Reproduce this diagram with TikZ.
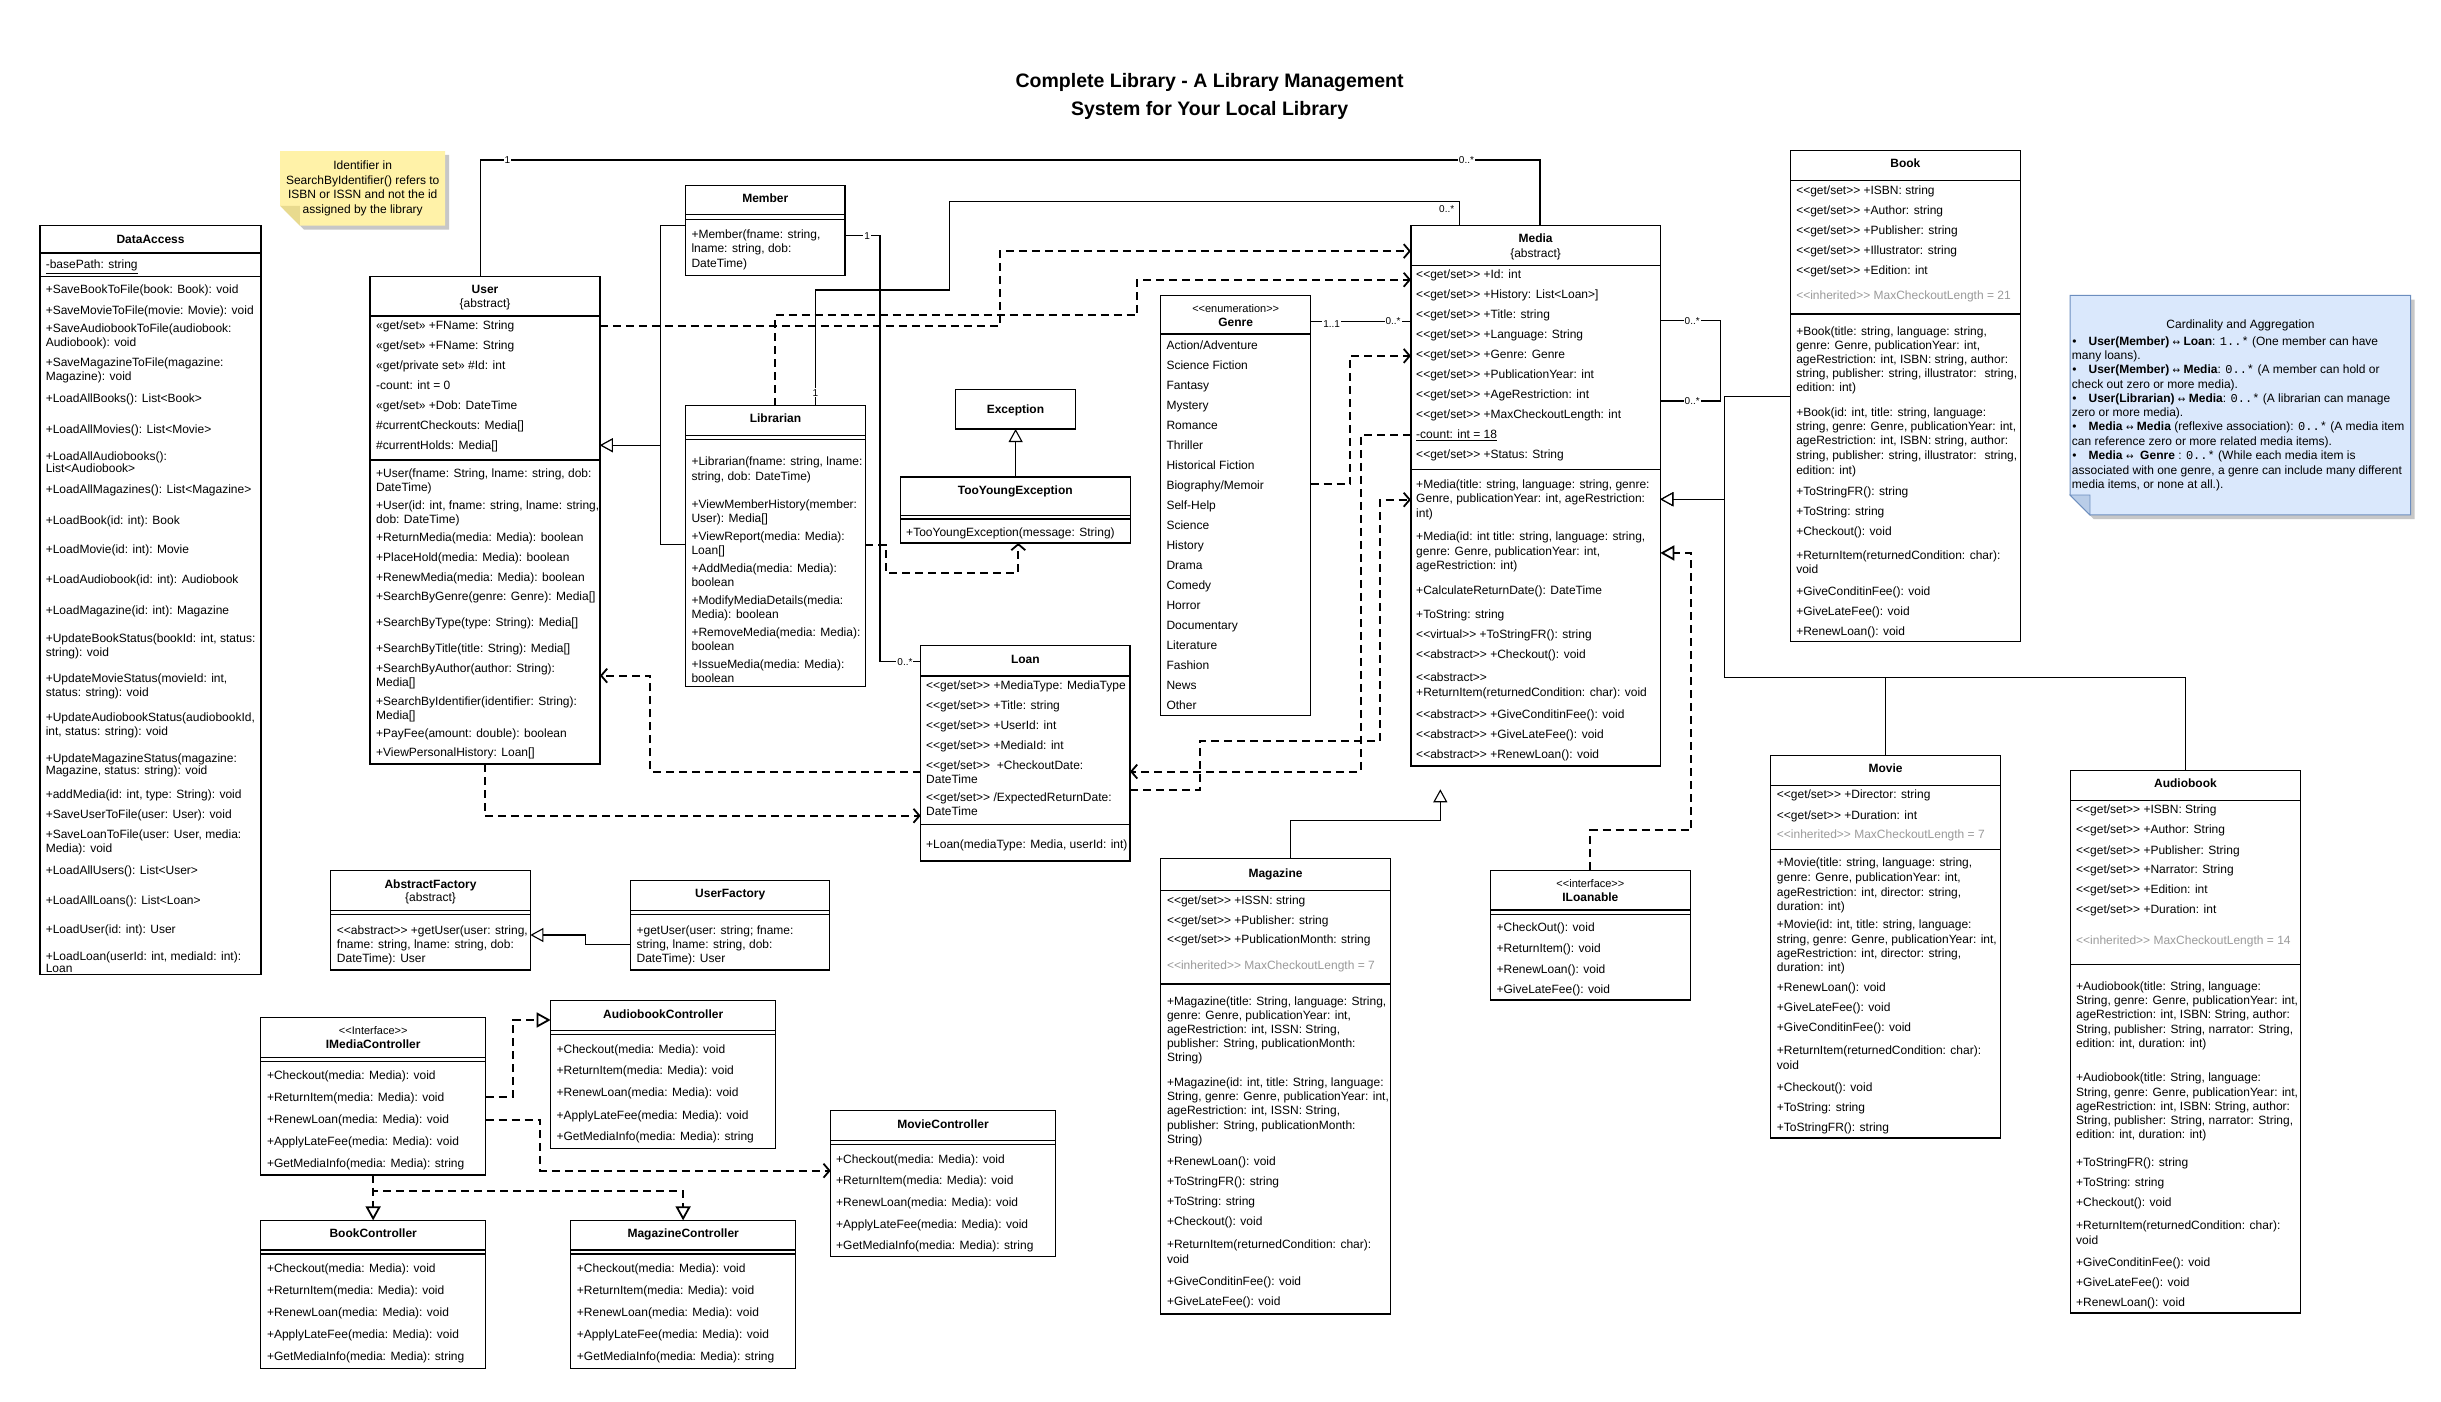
\documentclass[tikz,border=0pt]{standalone}
\usepackage{fontspec}
\setmainfont{Liberation Sans}[Ligatures=TeXOff]
\newfontfamily\codefont{Liberation Mono}[Ligatures=TeXOff]
\newfontfamily\symfont{DejaVu Sans}
\usetikzlibrary{arrows.meta}

\definecolor{notey}{HTML}{FFF2A8}
\definecolor{noteyfold}{HTML}{E8DA8E}
\definecolor{noteb}{HTML}{DAE8FC}
\definecolor{notebfold}{HTML}{B9CDE8}
\definecolor{notebline}{HTML}{6C8EBF}
\definecolor{inhgray}{HTML}{9A9A9A}

\tikzset{
  box/.style={draw, line width=1.2pt, anchor=north west, inner sep=0pt, outer sep=0pt},
  boxline/.style={line width=1.2pt},
  row/.style={anchor=west, inner sep=0pt, font=\fontsize{12}{14}\selectfont, text height=9pt, text depth=0.6pt},
  head/.style={anchor=center, inner sep=0pt, font=\bfseries\fontsize{12}{14}\selectfont, text height=9pt, text depth=0.6pt},
  stereo/.style={font=\fontsize{11}{13}\selectfont},
  plain/.style={font=\fontsize{12}{14}\selectfont},
  assoc/.style={line width=1.1pt},
  dep/.style={line width=2pt, dash pattern=on 8pt off 5pt, -{Straight Barb[length=6pt,width=14pt,line width=1.8pt]}},
  gen/.style={line width=1.1pt, -{Triangle[open,length=13pt,width=14pt,fill=white,line width=1.1pt]}},
  real/.style={line width=2pt, dash pattern=on 8pt off 5pt, -{Triangle[open,length=14pt,width=15pt,fill=white,line width=1.8pt]}},
  mult/.style={font=\fontsize{10}{12}\selectfont, inner sep=1pt, fill=white},
}

\newcounter{ln}
% one line of class text (x, y of the line middle, text)
\newcommand\Rw[3]{\stepcounter{ln}\node[row] (ln\arabic{ln}) at (#1,#2) {#3};}
% greyed inherited value
\newcommand\Gw[3]{\stepcounter{ln}\node[row,text=inhgray] (ln\arabic{ln}) at (#1,#2) {#3};}
% centred header line of a class
\newcommand\Hd[4][]{\stepcounter{ln}\node[head,#1] (ln\arabic{ln}) at (#2.north |- 0,#3) {#4};}
% class frame: name, x1, y1, x2, y2
\newcommand\Umlbox[5]{\node[box, minimum width={(#4-#2)*1.5568pt}, minimum height={(#5-#3)*1.5568pt}] (#1) at (#2,#3) {};}
% compartment separators
\newcommand\Sep[2]{\draw[boxline] (#1.west |- 0,#2) -- (#1.east |- 0,#2);}
\newcommand\DSep[3]{\Sep{#1}{#2}\Sep{#1}{#3}}
% two-way arrow used in the cardinality note
\newcommand\biarrow{{\symfont\fontsize{9}{12}\selectfont ↔}}

\begin{document}
\begin{tikzpicture}[x=1.5568pt, y=-1.5568pt]
\fill[white] (0,0) rectangle (1568,900);
\useasboundingbox (0,0) rectangle (1568,900);

% ---------- title ----------
\node[font=\bfseries\fontsize{19.5}{28}\selectfont, align=center] (title) at (777,62)
  {Complete Library - A Library Management\\System for Your Local Library};

% ---------- note on identifiers ----------
\fill[black!22] (182.5,99.5) -- (288.5,99.5) -- (288.5,147.5) -- (195.2,147.5) -- (182.5,134.7) -- cycle;
\fill[notey] (180,97) -- (286,97) -- (286,145) -- (192.7,145) -- (180,132.2) -- cycle;
\fill[noteyfold] (180,132.2) -- (192.7,132.2) -- (192.7,145) -- cycle;
\node[font=\fontsize{12}{14.6}\selectfont, align=center, inner sep=0pt] (notea) at (233,121)
  {Identifier in\\SearchByIdentifier() refers to\\ISBN or ISSN and not the id\\assigned by the library};

% ---------- note on cardinality ----------
\fill[black!22] (1332.5,192.5) -- (1551,192.5) -- (1551,333.5) -- (1345,333.5) -- (1332.5,321) -- cycle;
\filldraw[fill=noteb, draw=notebline, line width=1pt] (1329.7,189.7) -- (1548.4,189.7) -- (1548.4,330.8) -- (1342.5,330.8) -- (1329.7,318) -- cycle;
\filldraw[fill=notebfold, draw=notebline, line width=0.8pt] (1329.7,318) -- (1342.5,318) -- (1342.5,330.8) -- cycle;
\stepcounter{ln}\node[plain, inner sep=0pt] (ln\arabic{ln}) at (1439.2,209) {Cardinality and Aggregation};
\Rw{1331}{219}{•}
\Rw{1341.5}{219}{\textbf{User(Member)} \biarrow{} \textbf{Loan}: {\codefont 1..*} (One member can have}
\Rw{1330.8}{228}{many loans).}
\Rw{1331}{237.2}{•}
\Rw{1341.5}{237.2}{\textbf{User(Member)} \biarrow{} \textbf{Media}: {\codefont 0..*} (A member can hold or}
\Rw{1330.8}{246.7}{check out zero or more media).}
\Rw{1331}{255.9}{•}
\Rw{1341.5}{255.9}{\textbf{User(Librarian)} \biarrow{} \textbf{Media}: {\codefont 0..*} (A librarian can manage}
\Rw{1330.8}{265.1}{zero or more media).}
\Rw{1331}{274.1}{•}
\Rw{1341.5}{274.1}{\textbf{Media} \biarrow{} \textbf{Media} (reflexive association): {\codefont 0..*} (A media item}
\Rw{1330.8}{283.3}{can reference zero or more related media items).}
\Rw{1331}{292.7}{•}
\Rw{1341.5}{292.7}{\textbf{Media} \biarrow{} \ \textbf{Genre} : {\codefont 0..*} (While each media item is}
\Rw{1330.8}{301.9}{associated with one genre, a genre can include many different}
\Rw{1330.8}{310.9}{media items, or none at all.).}

% ---------- DataAccess ----------
\Umlbox{da}{25.7}{145}{167.7}{626}
\Hd{da}{153.5}{DataAccess}
\Sep{da}{162.5}
\Rw{29.3}{170}{\underline{-basePath: string}}
\Sep{da}{177.5}
\Rw{29.3}{186}{+SaveBookToFile(book: Book): void}
\Rw{29.3}{199}{+SaveMovieToFile(movie: Movie): void}
\Rw{29.3}{211}{+SaveAudiobookToFile(audiobook:}
\Rw{29.3}{220}{Audiobook): void}
\Rw{29.3}{233}{+SaveMagazineToFile(magazine:}
\Rw{29.3}{242}{Magazine): void}
\Rw{29.3}{256}{+LoadAllBooks(): List<Book>}
\Rw{29.3}{276}{+LoadAllMovies(): List<Movie>}
\Rw{29.3}{293}{+LoadAllAudiobooks():}
\Rw{29.3}{301}{List<Audiobook>}
\Rw{29.3}{314}{+LoadAllMagazines(): List<Magazine>}
\Rw{29.3}{334}{+LoadBook(id: int): Book}
\Rw{29.3}{353}{+LoadMovie(id: int): Movie}
\Rw{29.3}{372}{+LoadAudiobook(id: int): Audiobook}
\Rw{29.3}{392}{+LoadMagazine(id: int): Magazine}
\Rw{29.3}{410}{+UpdateBookStatus(bookId: int, status:}
\Rw{29.3}{419}{string): void}
\Rw{29.3}{436}{+UpdateMovieStatus(movieId: int,}
\Rw{29.3}{445}{status: string): void}
\Rw{29.3}{461}{+UpdateAudiobookStatus(audiobookId,}
\Rw{29.3}{470}{int, status: string): void}
\Rw{29.3}{487}{+UpdateMagazineStatus(magazine:}
\Rw{29.3}{495}{Magazine, status: string): void}
\Rw{29.3}{510}{+addMedia(id: int, type: String): void}
\Rw{29.3}{523}{+SaveUserToFile(user: User): void}
\Rw{29.3}{536}{+SaveLoanToFile(user: User, media:}
\Rw{29.3}{545}{Media): void}
\Rw{29.3}{559}{+LoadAllUsers(): List<User>}
\Rw{29.3}{578}{+LoadAllLoans(): List<Loan>}
\Rw{29.3}{597}{+LoadUser(id: int): User}
\Rw{29.3}{614}{+LoadLoan(userId: int, mediaId: int):}
\Rw{29.3}{622}{Loan}

% ---------- User ----------
\Umlbox{user}{237.7}{177.6}{385.4}{490.8}
\Hd{user}{186}{User}
\Hd[plain]{user}{195}{\{abstract\}}
\Sep{user}{203}
\Rw{241.5}{209}{«get/set» +FName: String}
\Rw{241.5}{221.6}{«get/set» +FName: String}
\Rw{241.5}{234.5}{«get/private set» \#Id: int}
\Rw{241.5}{247.3}{-count: int = 0}
\Rw{241.5}{260.2}{«get/set» +Dob: DateTime}
\Rw{241.5}{273}{\#currentCheckouts: Media[]}
\Rw{241.5}{286}{\#currentHolds: Media[]}
\Sep{user}{295.5}
\Rw{241.5}{304}{+User(fname: String, lname: string, dob:}
\Rw{241.5}{312.8}{DateTime)}
\Rw{241.5}{324.3}{+User(id: int, fname: string, lname: string,}
\Rw{241.5}{333.4}{dob: DateTime)}
\Rw{241.5}{345}{+ReturnMedia(media: Media): boolean}
\Rw{241.5}{357.9}{+PlaceHold(media: Media): boolean}
\Rw{241.5}{370.7}{+RenewMedia(media: Media): boolean}
\Rw{241.5}{383.2}{+SearchByGenre(genre: Genre): Media[]}
\Rw{241.5}{399.6}{+SearchByType(type: String): Media[]}
\Rw{241.5}{416.6}{+SearchByTitle(title: String): Media[]}
\Rw{241.5}{429.5}{+SearchByAuthor(author: String):}
\Rw{241.5}{438.5}{Media[]}
\Rw{241.5}{450.4}{+SearchByIdentifier(identifier: String):}
\Rw{241.5}{459.3}{Media[]}
\Rw{241.5}{470.8}{+PayFee(amount: double): boolean}
\Rw{241.5}{483}{+ViewPersonalHistory: Loan[]}

% ---------- Member ----------
\Umlbox{member}{440.4}{119}{542.8}{176.9}
\Hd{member}{127.6}{Member}
\DSep{member}{138}{140.9}
\Rw{444.1}{150.4}{+Member(fname: string,}
\Rw{444.1}{159.8}{lname: string, dob:}
\Rw{444.1}{168.9}{DateTime)}

% ---------- Librarian ----------
\Umlbox{lib}{440.4}{260.5}{555.8}{441.2}
\Hd{lib}{268.7}{Librarian}
\DSep{lib}{279.5}{282.2}
\Rw{444.1}{296.3}{+Librarian(fname: string, lname:}
\Rw{444.1}{306}{string, dob: DateTime)}
\Rw{444.1}{324}{+ViewMemberHistory(member:}
\Rw{444.1}{332.7}{User): Media[]}
\Rw{444.1}{344.7}{+ViewReport(media: Media):}
\Rw{444.1}{353.3}{Loan[]}
\Rw{444.1}{365.2}{+AddMedia(media: Media):}
\Rw{444.1}{374}{boolean}
\Rw{444.1}{385.9}{+ModifyMediaDetails(media:}
\Rw{444.1}{394.6}{Media): boolean}
\Rw{444.1}{406.1}{+RemoveMedia(media: Media):}
\Rw{444.1}{415.2}{boolean}
\Rw{444.1}{426.7}{+IssueMedia(media: Media):}
\Rw{444.1}{435.8}{boolean}

% ---------- Exception / TooYoungException ----------
\Umlbox{exc}{613.6}{250}{691}{275.6}
\Hd{exc}{262.8}{Exception}
\Umlbox{tye}{578.3}{306.4}{726}{348.8}
\Hd{tye}{315}{TooYoungException}
\DSep{tye}{331}{333.4}
\Rw{582}{342.1}{+TooYoungException(message: String)}

% ---------- Loan ----------
\Umlbox{loan}{591.4}{414.8}{725.9}{553}
\Hd{loan}{423.5}{Loan}
\Sep{loan}{434.2}
\Rw{594.8}{440.1}{<<get/set>> +MediaType: MediaType}
\Rw{594.8}{453}{<<get/set>> +Title: string}
\Rw{594.8}{465.8}{<<get/set>> +UserId: int}
\Rw{594.8}{478.7}{<<get/set>> +MediaId: int}
\Rw{594.8}{491.5}{<<get/set>> \ +CheckoutDate:}
\Rw{594.8}{500.6}{DateTime}
\Rw{594.8}{512}{<<get/set>> /ExpectedReturnDate:}
\Rw{594.8}{521}{DateTime}
\Sep{loan}{529.6}
\Rw{594.8}{542.4}{+Loan(mediaType: Media, userId: int)}

% ---------- Genre ----------
\Umlbox{genre}{745.6}{189.8}{841.9}{459.8}
\Hd[stereo]{genre}{198.2}{<<enumeration>>}
\Hd{genre}{207.2}{Genre}
\Sep{genre}{214.5}
\Rw{749.2}{221.5}{Action/Adventure}
\Rw{749.2}{234.35}{Science Fiction}
\Rw{749.2}{247.2}{Fantasy}
\Rw{749.2}{260.05}{Mystery}
\Rw{749.2}{272.9}{Romance}
\Rw{749.2}{285.75}{Thriller}
\Rw{749.2}{298.6}{Historical Fiction}
\Rw{749.2}{311.45}{Biography/Memoir}
\Rw{749.2}{324.3}{Self-Help}
\Rw{749.2}{337.15}{Science}
\Rw{749.2}{350}{History}
\Rw{749.2}{362.85}{Drama}
\Rw{749.2}{375.7}{Comedy}
\Rw{749.2}{388.55}{Horror}
\Rw{749.2}{401.4}{Documentary}
\Rw{749.2}{414.25}{Literature}
\Rw{749.2}{427.1}{Fashion}
\Rw{749.2}{439.95}{News}
\Rw{749.2}{452.8}{Other}

% ---------- Media ----------
\Umlbox{media}{906.3}{144.8}{1066.5}{492}
\Hd{media}{153.2}{Media}
\Hd[plain]{media}{162.4}{\{abstract\}}
\Sep{media}{170.5}
\Rw{909.6}{176.4}{<<get/set>> +Id: int}
\Rw{909.6}{189.2}{<<get/set>> +History: List<Loan>]}
\Rw{909.6}{202.1}{<<get/set>> +Title: string}
\Rw{909.6}{214.9}{<<get/set>> +Language: String}
\Rw{909.6}{227.8}{<<get/set>> +Genre: Genre}
\Rw{909.6}{240.6}{<<get/set>> +PublicationYear: int}
\Rw{909.6}{253.5}{<<get/set>> +AgeRestriction: int}
\Rw{909.6}{266.3}{<<get/set>> +MaxCheckoutLength: int}
\Rw{909.6}{279.2}{\underline{-count: int = 18}}
\Rw{909.6}{292}{<<get/set>> +Status: String}
\Sep{media}{301.4}
\Rw{909.6}{311.1}{+Media(title: string, language: string, genre:}
\Rw{909.6}{320.3}{Genre, publicationYear: int, ageRestriction:}
\Rw{909.6}{329.5}{int)}
\Rw{909.6}{344.8}{+Media(id: int title: string, language: string,}
\Rw{909.6}{354}{genre: Genre, publicationYear: int,}
\Rw{909.6}{363.2}{ageRestriction: int)}
\Rw{909.6}{379.2}{+CalculateReturnDate(): DateTime}
\Rw{909.6}{394.8}{+ToString: string}
\Rw{909.6}{407.6}{<<virtual>> +ToStringFR(): string}
\Rw{909.6}{420.5}{<<abstract>> +Checkout(): void}
\Rw{909.6}{434.9}{<<abstract>>}
\Rw{909.6}{445}{+ReturnItem(returnedCondition: char): void}
\Rw{909.6}{459}{<<abstract>> +GiveConditinFee(): void}
\Rw{909.6}{471.9}{<<abstract>> +GiveLateFee(): void}
\Rw{909.6}{484.7}{<<abstract>> +RenewLoan(): void}

% ---------- Book ----------
\Umlbox{book}{1150}{96.8}{1297.8}{412.2}
\Hd{book}{104.9}{Book}
\Sep{book}{116}
\Rw{1153.7}{122}{<<get/set>> +ISBN: string}
\Rw{1153.7}{134.9}{<<get/set>> +Author: string}
\Rw{1153.7}{147.7}{<<get/set>> +Publisher: string}
\Rw{1153.7}{160.6}{<<get/set>> +Illustrator: string}
\Rw{1153.7}{173.4}{<<get/set>> +Edition: int}
\Gw{1153.7}{189.5}{<<inherited>> MaxCheckoutLength = 21}
\Sep{book}{201.7}
\Rw{1153.7}{212.6}{+Book(title: string, language: string,}
\Rw{1153.7}{221.6}{genre: Genre, publicationYear: int,}
\Rw{1153.7}{230.6}{ageRestriction: int, ISBN: string, author:}
\Rw{1153.7}{239.8}{string, publisher: string, illustrator: \ string,}
\Rw{1153.7}{249}{edition: int)}
\Rw{1153.7}{265.1}{+Book(id: int, title: string, language:}
\Rw{1153.7}{274.1}{string, genre: Genre, publicationYear: int,}
\Rw{1153.7}{283.1}{ageRestriction: int, ISBN: string, author:}
\Rw{1153.7}{292.5}{string, publisher: string, illustrator: \ string,}
\Rw{1153.7}{301.9}{edition: int)}
\Rw{1153.7}{315.8}{+ToStringFR(): string}
\Rw{1153.7}{328.7}{+ToString: string}
\Rw{1153.7}{341.5}{+Checkout(): void}
\Rw{1153.7}{356.5}{+ReturnItem(returnedCondition: char):}
\Rw{1153.7}{365.7}{void}
\Rw{1153.7}{380}{+GiveConditinFee(): void}
\Rw{1153.7}{392.9}{+GiveLateFee(): void}
\Rw{1153.7}{405.8}{+RenewLoan(): void}

% ---------- Movie ----------
\Umlbox{movie}{1137.4}{485.3}{1285}{731}
\Hd{movie}{493.6}{Movie}
\Sep{movie}{504.6}
\Rw{1141.3}{510.5}{<<get/set>> +Director: string}
\Rw{1141.3}{523.4}{<<get/set>> +Duration: int}
\Gw{1141.3}{536.2}{<<inherited>> MaxCheckoutLength = 7}
\Sep{movie}{545.7}
\Rw{1141.3}{554.1}{+Movie(title: string, language: string,}
\Rw{1141.3}{563.3}{genre: Genre, publicationYear: int,}
\Rw{1141.3}{572.9}{ageRestriction: int, director: string,}
\Rw{1141.3}{581.9}{duration: int)}
\Rw{1141.3}{593.8}{+Movie(id: int, title: string, language:}
\Rw{1141.3}{603.1}{string, genre: Genre, publicationYear: int,}
\Rw{1141.3}{612.6}{ageRestriction: int, director: string,}
\Rw{1141.3}{621.6}{duration: int)}
\Rw{1141.3}{634}{+RenewLoan(): void}
\Rw{1141.3}{646.8}{+GiveLateFee(): void}
\Rw{1141.3}{659.7}{+GiveConditinFee(): void}
\Rw{1141.3}{674.5}{+ReturnItem(returnedCondition: char):}
\Rw{1141.3}{684}{void}
\Rw{1141.3}{698.2}{+Checkout(): void}
\Rw{1141.3}{711.1}{+ToString: string}
\Rw{1141.3}{723.9}{+ToStringFR(): string}

% ---------- Audiobook ----------
\Umlbox{audio}{1330.1}{494.9}{1477.6}{843.4}
\Hd{audio}{503.2}{Audiobook}
\Sep{audio}{514.1}
\Rw{1333.5}{520.1}{<<get/set>> +ISBN: String}
\Rw{1333.5}{532.9}{<<get/set>> +Author: String}
\Rw{1333.5}{546}{<<get/set>> +Publisher: String}
\Rw{1333.5}{558.6}{<<get/set>> +Narrator: String}
\Rw{1333.5}{571.4}{<<get/set>> +Edition: int}
\Rw{1333.5}{584.3}{<<get/set>> +Duration: int}
\Gw{1333.5}{603.8}{<<inherited>> MaxCheckoutLength = 14}
\Sep{audio}{619.5}
\Rw{1333.5}{633.3}{+Audiobook(title: String, language:}
\Rw{1333.5}{642.4}{String, genre: Genre, publicationYear: int,}
\Rw{1333.5}{651.4}{ageRestriction: int, ISBN: String, author:}
\Rw{1333.5}{660.9}{String, publisher: String, narrator: String,}
\Rw{1333.5}{669.9}{edition: int, duration: int)}
\Rw{1333.5}{692.3}{+Audiobook(title: String, language:}
\Rw{1333.5}{701.4}{String, genre: Genre, publicationYear: int,}
\Rw{1333.5}{710.4}{ageRestriction: int, ISBN: String, author:}
\Rw{1333.5}{719.9}{String, publisher: String, narrator: String,}
\Rw{1333.5}{728.9}{edition: int, duration: int)}
\Rw{1333.5}{746.5}{+ToStringFR(): string}
\Rw{1333.5}{759.2}{+ToString: string}
\Rw{1333.5}{772.2}{+Checkout(): void}
\Rw{1333.5}{787}{+ReturnItem(returnedCondition: char):}
\Rw{1333.5}{796.5}{void}
\Rw{1333.5}{810.8}{+GiveConditinFee(): void}
\Rw{1333.5}{823.6}{+GiveLateFee(): void}
\Rw{1333.5}{836.5}{+RenewLoan(): void}

% ---------- Magazine ----------
\Umlbox{mag}{745.6}{551.5}{893.1}{844}
\Hd{mag}{561.2}{Magazine}
\Sep{mag}{571.8}
\Rw{749.5}{578.1}{<<get/set>> +ISSN: string}
\Rw{749.5}{590.9}{<<get/set>> +Publisher: string}
\Rw{749.5}{603.5}{<<get/set>> +PublicationMonth: string}
\Gw{749.5}{619.8}{<<inherited>> MaxCheckoutLength = 7}
\Sep{mag}{632.1}
\Rw{749.5}{643}{+Magazine(title: String, language: String,}
\Rw{749.5}{651.9}{genre: Genre, publicationYear: int,}
\Rw{749.5}{661}{ageRestriction: int, ISSN: String,}
\Rw{749.5}{670.1}{publisher: String, publicationMonth:}
\Rw{749.5}{679.2}{String)}
\Rw{749.5}{695.5}{+Magazine(id: int, title: String, language:}
\Rw{749.5}{704.4}{String, genre: Genre, publicationYear: int,}
\Rw{749.5}{713.5}{ageRestriction: int, ISSN: String,}
\Rw{749.5}{722.6}{publisher: String, publicationMonth:}
\Rw{749.5}{731.7}{String)}
\Rw{749.5}{746.1}{+RenewLoan(): void}
\Rw{749.5}{759.1}{+ToStringFR(): string}
\Rw{749.5}{771.9}{+ToString: string}
\Rw{749.5}{784.7}{+Checkout(): void}
\Rw{749.5}{799.3}{+ReturnItem(returnedCondition: char):}
\Rw{749.5}{809}{void}
\Rw{749.5}{823.1}{+GiveConditinFee(): void}
\Rw{749.5}{836}{+GiveLateFee(): void}

% ---------- ILoanable ----------
\Umlbox{iloan}{957.4}{559}{1085.8}{642.4}
\Hd[stereo]{iloan}{567.3}{<<interface>>}
\Hd{iloan}{576.4}{ILoanable}
\DSep{iloan}{584.6}{587.2}
\Rw{961.2}{595.9}{+CheckOut(): void}
\Rw{961.2}{609.3}{+ReturnItem(): void}
\Rw{961.2}{622.8}{+RenewLoan(): void}
\Rw{961.2}{635.4}{+GiveLateFee(): void}

% ---------- factories ----------
\Umlbox{absf}{212.4}{559.3}{340.7}{623.1}
\Hd{absf}{567.8}{AbstractFactory}
\Hd[plain]{absf}{576.6}{\{abstract\}}
\DSep{absf}{585}{587.3}
\Rw{216.3}{597.4}{<<abstract>> +getUser(user: string,}
\Rw{216.3}{606.4}{fname: string, lname: string, dob:}
\Rw{216.3}{615.8}{DateTime): User}

\Umlbox{userf}{405.1}{565.7}{533}{623.1}
\Hd{userf}{574}{UserFactory}
\DSep{userf}{585}{587.3}
\Rw{408.8}{597.4}{+getUser(user: string; fname:}
\Rw{408.8}{606.4}{string, lname: string, dob:}
\Rw{408.8}{615.8}{DateTime): User}

% ---------- controllers ----------
\Umlbox{imc}{167.5}{653.7}{312}{754.7}
\Hd[stereo]{imc}{662}{<<Interface>>}
\Hd{imc}{670.8}{IMediaController}
\DSep{imc}{679.4}{682}
\Rw{171.4}{691}{+Checkout(media: Media): void}
\Rw{171.4}{705.1}{+ReturnItem(media: Media): void}
\Rw{171.4}{719.2}{+RenewLoan(media: Media): void}
\Rw{171.4}{733.3}{+ApplyLateFee(media: Media): void}
\Rw{171.4}{747.5}{+GetMediaInfo(media: Media): string}

\Umlbox{abc}{353.7}{642.8}{498.3}{737.6}
\Hd{abc}{651.3}{AudiobookController}
\DSep{abc}{662}{664.4}
\Rw{357.4}{673.8}{+Checkout(media: Media): void}
\Rw{357.4}{687.7}{+ReturnItem(media: Media): void}
\Rw{357.4}{701.9}{+RenewLoan(media: Media): void}
\Rw{357.4}{716.2}{+ApplyLateFee(media: Media): void}
\Rw{357.4}{730.1}{+GetMediaInfo(media: Media): string}

\Umlbox{movc}{533.6}{713.4}{677.9}{807.2}
\Hd{movc}{722.2}{MovieController}
\DSep{movc}{732.7}{735}
\Rw{537}{744.7}{+Checkout(media: Media): void}
\Rw{537}{758.4}{+ReturnItem(media: Media): void}
\Rw{537}{772.3}{+RenewLoan(media: Media): void}
\Rw{537}{786.4}{+ApplyLateFee(media: Media): void}
\Rw{537}{800.2}{+GetMediaInfo(media: Media): string}

\Umlbox{bookc}{167.5}{783.9}{312}{878.9}
\Hd{bookc}{792.2}{BookController}
\DSep{bookc}{802.9}{805.5}
\Rw{171.4}{814.9}{+Checkout(media: Media): void}
\Rw{171.4}{829}{+ReturnItem(media: Media): void}
\Rw{171.4}{843.2}{+RenewLoan(media: Media): void}
\Rw{171.4}{857.3}{+ApplyLateFee(media: Media): void}
\Rw{171.4}{871.5}{+GetMediaInfo(media: Media): string}

\Umlbox{magc}{366.6}{783.9}{511.1}{878.9}
\Hd{magc}{792.2}{MagazineController}
\DSep{magc}{802.9}{805.5}
\Rw{370.5}{814.9}{+Checkout(media: Media): void}
\Rw{370.5}{829}{+ReturnItem(media: Media): void}
\Rw{370.5}{843.2}{+RenewLoan(media: Media): void}
\Rw{370.5}{857.3}{+ApplyLateFee(media: Media): void}
\Rw{370.5}{871.5}{+GetMediaInfo(media: Media): string}

% ================= connectors =================
% User -- Media
\draw[assoc] (user.north -| 308.8,0) -- (308.8,102.8) -- (989.2,102.8) -- (media.north -| 989.2,0);
\node[mult] (mu1) at (326,102.8) {1};
\node[mult] (mu2) at (942,102.8) {0..*};
% Librarian -- Media
\draw[assoc] (lib.north -| 523.7,0) -- (523.7,186.3) -- (610.2,186.3) -- (610.2,129.5) -- (937.8,129.5) -- (media.north -| 937.8,0);
\node[mult] (ml1) at (523.7,252.4) {1};
\node[mult, fill=none] (ml2) at (929.3,134.5) {0..*};
% Member -- Loan
\draw[assoc] (member.east |- 0,151.5) -- (565.3,151.5) -- (565.3,425) -- (loan.west |- 0,425);
\node[mult] (mm1) at (557,151.5) {1};
\node[mult] (mm2) at (581.3,425) {0..*};
% Member, Librarian inherit User
\draw[gen] (member.west |- 0,144.6) -- (424,144.6) -- (424,286) -- (user.east |- 0,286);
\draw[gen] (lib.west |- 0,350) -- (424,350) -- (424,286) -- (user.east |- 0,286);
% dependencies
\draw[dep] (user.east |- 0,209.5) -- (642.3,209.5) -- (642.3,161.3) -- (media.west |- 0,161.3);
\draw[dep] (lib.north -| 497.8,0) -- (497.8,202.5) -- (730.5,202.5) -- (730.5,179.7) -- (media.west |- 0,179.7);
\draw[dep] (lib.east |- 0,350) -- (568.9,350) -- (568.9,367.9) -- (654.1,367.9) -- (tye.south -| 654.1,0);
\draw[gen] (tye.north -| 652.4,0) -- (exc.south -| 652.4,0);
% Genre -- Media
\draw[assoc] (genre.east |- 0,206.5) -- (media.west |- 0,206.5);
\node[mult] (mg1) at (855.4,208) {1..1};
\node[mult] (mg2) at (894.8,206.5) {0..*};
\draw[dep] (genre.east |- 0,311.2) -- (867.2,311.2) -- (867.2,228.6) -- (media.west |- 0,228.6);
% Media / Loan
\draw[dep] (media.west |- 0,279.6) -- (874,279.6) -- (874,495.6) -- (loan.east |- 0,495.6);
\draw[dep] (loan.east |- 0,507.5) -- (770.8,507.5) -- (770.8,476) -- (886.4,476) -- (886.4,321) -- (media.west |- 0,321);
% Loan / User
\draw[dep] (loan.west |- 0,495.6) -- (417.5,495.6) -- (417.5,434) -- (user.east |- 0,434);
\draw[dep] (user.south -| 311.5,0) -- (311.5,524) -- (loan.west |- 0,524);
% Media self association
\draw[assoc] (media.east |- 0,206) -- (1105,206) -- (1105,257.6) -- (media.east |- 0,257.6);
\node[mult] (ms1) at (1087,206) {0..*};
\node[mult] (ms2) at (1087,257.6) {0..*};
% subclasses of Media
\draw[gen] (book.west |- 0,254.5) -- (1108,254.5) -- (1108,320.7) -- (media.east |- 0,320.7);
\draw[gen] (movie.north -| 1211,0) -- (1211,435) -- (1108,435) -- (1108,320.7) -- (media.east |- 0,320.7);
\draw[gen] (audio.north -| 1403.7,0) -- (1403.7,435) -- (1108,435) -- (1108,320.7) -- (media.east |- 0,320.7);
\coordinate (magtip) at (925.2,507);
\draw[gen] (mag.north -| 828.9,0) -- (828.9,527) -- (925.2,527) -- (magtip);
% ILoanable
\draw[real] (iloan.north -| 1021.6,0) -- (1021.6,533.4) -- (1086.2,533.4) -- (1086.2,355.2) -- (media.east |- 0,355.2);
% factories
\draw[gen] (userf.west |- 0,606.6) -- (376.2,606.6) -- (376.2,600.6) -- (absf.east |- 0,600.6);
% controllers
\draw[real] (imc.east |- 0,704.4) -- (329.7,704.4) -- (329.7,655.2) -- (abc.west |- 0,655.2);
\draw[dep] (imc.east |- 0,719.4) -- (347.1,719.4) -- (347.1,752) -- (movc.west |- 0,752);
\draw[real] (imc.south -| 239.7,0) -- (bookc.north -| 239.7,0);
\draw[real] (imc.south -| 239.7,0) -- (239.7,764.8) -- (438.8,764.8) -- (magc.north -| 438.8,0);
\end{tikzpicture}
\end{document}
